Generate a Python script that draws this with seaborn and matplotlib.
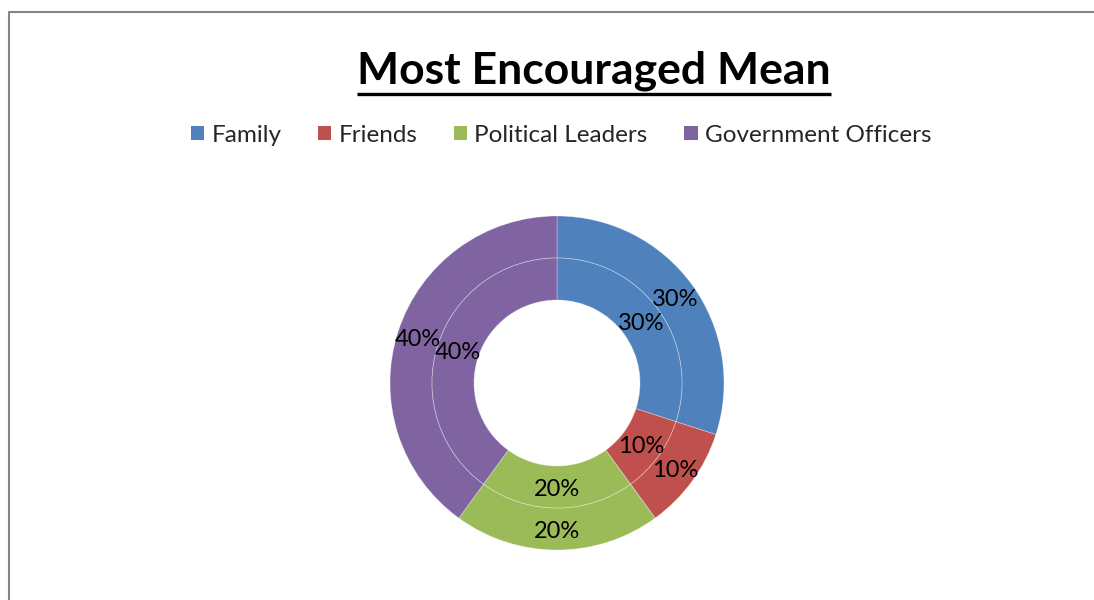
import matplotlib
matplotlib.use("Agg")
import matplotlib.pyplot as plt
import seaborn as sns
import numpy as np
from matplotlib.lines import Line2D
from matplotlib.patches import Patch

# Share of respondents naming each group as most encouraging
categories = ["Family", "Friends", "Political Leaders", "Government Officers"]
outer_values = [30, 10, 20, 40]
inner_values = [30, 10, 20, 40]
title_text = "Most Encouraged Mean"

sns.set_theme(style="white")
plt.rcParams["font.family"] = ["Lato", "DejaVu Sans"]

colors = sns.color_palette(["#4F81BD", "#C0504D", "#9BBB59", "#8064A2"])

W, H = 1094, 600
fig = plt.figure(figsize=(W / 100, H / 100), dpi=100)

# Donut axes: centre (557, 383) px, outer radius 167 px
cx, cy, r = 557, 383, 167
ax = fig.add_axes([(cx - r) / W, (H - cy - r) / H, 2 * r / W, 2 * r / H])

ring_w = 42 / 167
inner_r = 1 - ring_w
edge = dict(edgecolor=(1, 1, 1, 0.35), linewidth=0.6)

ax.pie(outer_values, radius=1.0, colors=colors, startangle=90,
       counterclock=False, wedgeprops=dict(width=ring_w, **edge))
ax.pie(inner_values, radius=inner_r, colors=colors, startangle=90,
       counterclock=False, wedgeprops=dict(width=ring_w, **edge))
ax.set_xlim(-1, 1)
ax.set_ylim(-1, 1)
ax.set_aspect("equal")
ax.axis("off")


def place_labels(values, rad):
    total = sum(values)
    start = 90.0
    for v in values:
        frac = v / total
        ang = start - 180.0 * frac
        start -= 360.0 * frac
        t = np.deg2rad(ang)
        ax.text(rad * np.cos(t), rad * np.sin(t), f"{100 * frac:.0f}%",
                ha="center", va="center_baseline", fontsize=17, color="black")


place_labels(outer_values, 1 - ring_w / 2)
place_labels(inner_values, inner_r - ring_w / 2)

# Title with underline
title = fig.text(594 / W, 1 - 71 / H, title_text, ha="center", va="center",
                 fontsize=32, fontweight="bold", color="black")
fig.canvas.draw()
bb = title.get_window_extent(renderer=fig.canvas.get_renderer())
uy = 1 - 94 / H
fig.add_artist(Line2D([bb.x0 / W, bb.x1 / W], [uy, uy], transform=fig.transFigure,
                      color="black", linewidth=2.4, solid_capstyle="butt"))

# Legend row
handles = [Patch(facecolor=c, edgecolor="none") for c in colors]
fig.legend(handles, categories, loc="center", bbox_to_anchor=(561 / W, 1 - 135 / H),
           ncol=4, frameon=False, fontsize=17.5, handlelength=0.55, handleheight=0.55,
           handletextpad=0.3, columnspacing=1.5)

# Chart-area border (left and top edges)
border = dict(transform=fig.transFigure, color="#868686", linewidth=1.5)
fig.add_artist(Line2D([9 / W, 9 / W], [0, 1 - 12 / H], **border))
fig.add_artist(Line2D([9 / W, 1.0], [1 - 12 / H, 1 - 12 / H], **border))

fig.savefig("out.png", dpi=100, facecolor="white")
